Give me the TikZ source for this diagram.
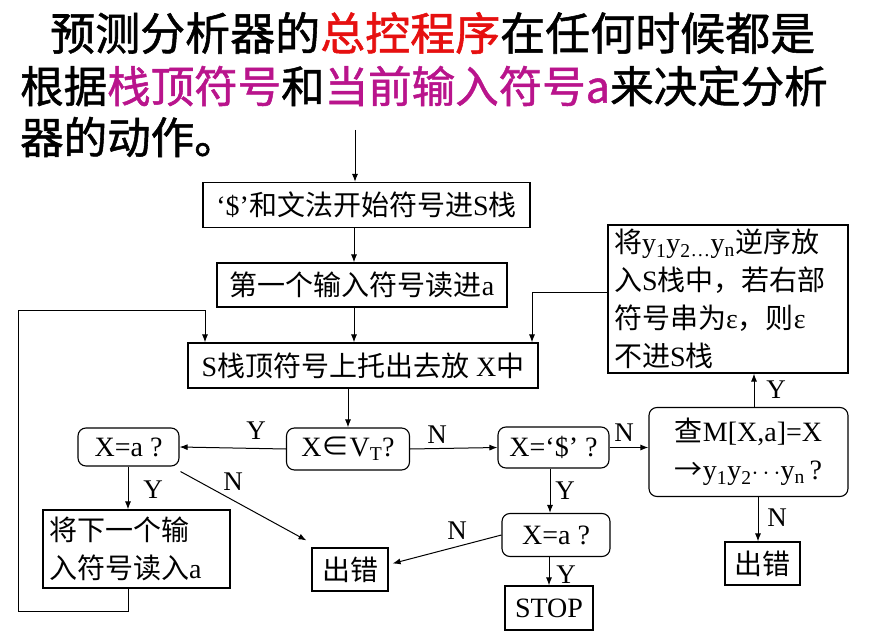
\documentclass[tikz,border=0pt]{standalone}
\usepackage{fontspec}
\setmainfont{Liberation Serif}
\newfontfamily\cjk{Noto Sans CJK SC}
\newfontfamily\ttlfont[FakeBold=1.2]{Noto Sans CJK SC}
\usetikzlibrary{arrows.meta,calc}
\definecolor{tred}{RGB}{230,16,16}
\definecolor{tmag}{RGB}{185,20,140}
\newcommand{\zh}[1]{{\cjk #1}}
\begin{document}
\begin{tikzpicture}[x=1pt,y=-1pt,
  box/.style={draw, line width=1.1pt, inner sep=0pt, font=\fontsize{28}{36}\selectfont, align=center},
  rbox/.style={box, rounded corners=8pt},
  arr/.style={-{Latex[length=8pt,width=6pt]}, line width=1pt},
  lab/.style={font=\fontsize{27}{27}\selectfont, inner sep=0pt},
  ttl/.style={anchor=west, inner sep=0pt, font=\ttlfont\fontsize{43.5}{52}\selectfont}]
\useasboundingbox (0,0) rectangle (873,639);
% title
\node[ttl, font=\ttlfont\fontsize{45}{52}\selectfont] (t1) at (50,33) {预测分析器的\textcolor{tred}{总控程序}在任何时候都是};
\node[ttl] (t2) at (20,86) {根据\textcolor{tmag}{栈顶符号}和\textcolor{tmag}{当前输入符号a}来决定分析};
\node[ttl] (t3) at (20,137) {器的动作。};
% boxes
\node[box, minimum width=327pt, minimum height=45pt] (b1) at (366.5,205) {‘\$’\zh{和文法开始符号进}S\zh{栈}};
\node[box, minimum width=290pt, minimum height=44pt] (b2) at (362,285) {\zh{第一个输入符号读进}a};
\node[box, minimum width=350pt, minimum height=45pt] (b3) at (363,365.5) {S\zh{栈顶符号上托出去放} X\zh{中}};
\node[box, minimum width=240pt, minimum height=148pt, text width=228pt, align=left, font=\fontsize{28}{38}\selectfont] (b4) at (728,299)
  {\zh{将}y\textsubscript{1}y\textsubscript{2}\textsubscript{…}y\textsubscript{n}\zh{逆序放}\\
   \zh{入}S\zh{栈中，若右部}\\
   \zh{符号串为}ε\zh{，则}ε\\
   \zh{不进}S\zh{栈}};
\node[rbox, minimum width=123pt, minimum height=42pt] (d1) at (348,449) {X\zh{∈}V\textsubscript{T}?};
\node[rbox, minimum width=101pt, minimum height=38pt] (d2) at (128.5,447) {X=a ?};
\node[rbox, minimum width=111pt, minimum height=41pt] (d3) at (553.5,447.5) {X=‘\$’ ?};
\node[rbox, minimum width=199pt, minimum height=89pt, font=\fontsize{28}{38}\selectfont] (d4) at (748.5,452)
  {\zh{查}M[X,a]=X\\\zh{→}y\textsubscript{1}y\textsubscript{2}$\cdots$y\textsubscript{n}\,?};
\node[rbox, minimum width=108pt, minimum height=43pt] (d5) at (556,535) {X=a ?};
\node[box, minimum width=76pt, minimum height=43pt] (e1) at (350,569.5) {\zh{出错}};
\node[box, minimum width=75pt, minimum height=43pt] (e2) at (762.5,563.5) {\zh{出错}};
\node[box, minimum width=88pt, minimum height=44pt] (st) at (549,608) {STOP};
\node[box, minimum width=187pt, minimum height=78pt, text width=175pt, align=left, font=\fontsize{28}{38}\selectfont] (b5) at (136.5,549)
  {\zh{将下一个输}\\\zh{入符号读入}a};
% coordinates
\coordinate (T0) at (355,130);
\coordinate (xa) at (354,0);
\coordinate (R1) at (532,292);
\coordinate (lb) at (128,611);
\coordinate (L1) at (18,611);
\coordinate (L2) at (18,310);
\coordinate (L3) at (205,310);
% connectors
\draw[arr] (T0) -- (T0 |- b1.north);
\draw[arr] (b1.south -| xa) -- (b2.north -| xa);
\draw[arr] (b2.south -| xa) -- (b3.north -| xa);
\draw[arr] (b3.south -| d1.north) -- (d1.north);
\draw[arr] (d1.west) -- (d2.east);
\draw[arr] (d1.east) -- (d3.west);
\draw[arr] (d3.east) -- (d3.east -| d4.west);
\draw[arr] (d4.north -| 754,0) -- (b4.south -| 754,0);
\draw[arr] (d4.south -| 758,0) -- (e2.north -| 758,0);
\draw[arr] (d3.south -| 550,0) -- (d5.north -| 550,0);
\draw[arr] (d5.west) -- ($(e1.east)+(4,-6)$);
\draw[arr] (d5.south -| 549,0) -- (st.north -| 549,0);
\draw[arr] (d2.south -| 128,0) -- (b5.north -| 128,0);
\draw[arr] ($(d2.south east)+(1,5)$) -- ($(e1.north west)+(-5,-7)$);
\draw[arr] (lb |- b5.south) -- (lb) -- (L1) -- (L2) -- (L3) -- (L3 |- b3.north);
\draw[arr] (b4.west |- R1) -- (R1) -- (R1 |- b3.north);
% labels
\node[lab] (y1) at (256,431) {Y};
\node[lab] (n1) at (437,435) {N};
\node[lab] (n2) at (624,433) {N};
\node[lab] (y2) at (776,390) {Y};
\node[lab] (n3) at (777,518) {N};
\node[lab] (y3) at (565,491) {Y};
\node[lab] (n4) at (457,531) {N};
\node[lab] (y4) at (566,575) {Y};
\node[lab] (y5) at (153,490) {Y};
\node[lab] (n5) at (233,482) {N};
\end{tikzpicture}
\end{document}
